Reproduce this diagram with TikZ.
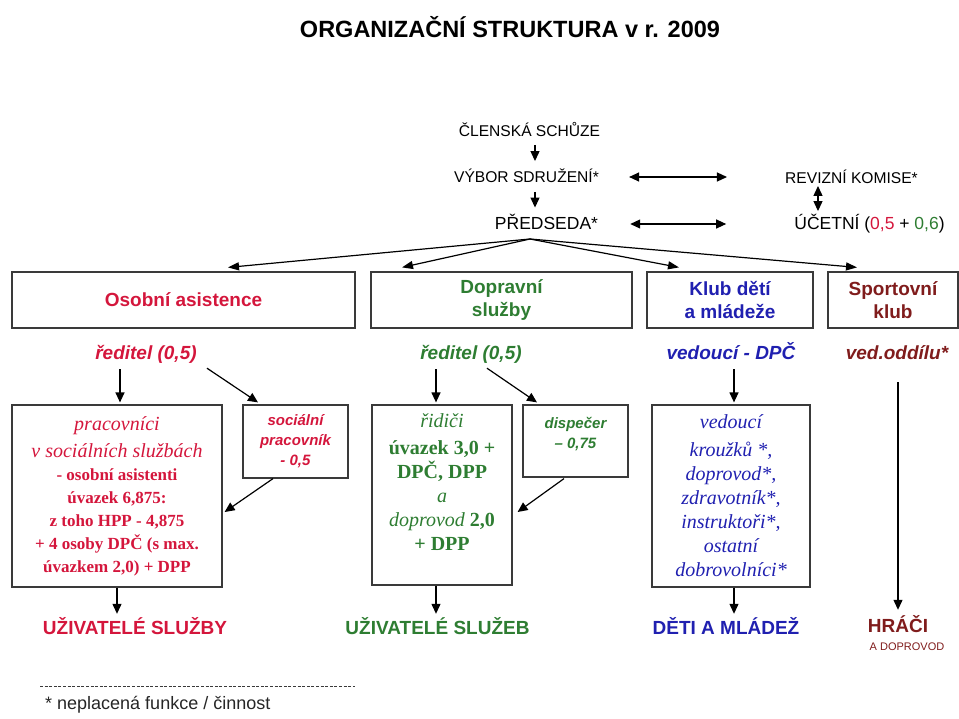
\documentclass[tikz,border=0pt]{standalone}
\usepackage{fontspec}
\setmainfont{Liberation Serif}
\setsansfont{Liberation Sans}
\usetikzlibrary{arrows.meta,calc}
\definecolor{ozred}{HTML}{D4163C}
\definecolor{ozgreen}{HTML}{2E7D32}
\definecolor{ozblue}{HTML}{2020B0}
\definecolor{ozdark}{HTML}{801C1C}
\definecolor{ozline}{HTML}{3A3A3A}
\newcommand\ozfs[2]{\fontsize{#1}{#2}\selectfont}
\begin{document}
\begin{tikzpicture}[x=1pt,y=-1pt,
  every node/.style={inner sep=0pt, font=\sffamily},
  toplbl/.style={font=\sffamily\ozfs{15.6}{18}, text height=11.5pt, text depth=0pt},
  headbox/.style={draw=ozline, line width=1.2pt, align=center, minimum height=56pt,
    font=\sffamily\bfseries\ozfs{19}{23}},
  rolelbl/.style={font=\sffamily\bfseries\itshape\ozfs{19}{22}, text height=14pt, text depth=4pt},
  staffbox/.style={draw=ozline, line width=1.2pt, align=center},
  smallbox/.style={draw=ozline, line width=1.2pt, align=center,
    font=\sffamily\bfseries\itshape\ozfs{15}{20}},
  endlbl/.style={font=\sffamily\bfseries\ozfs{19}{22}, text height=14pt, text depth=0pt},
  arr/.style={line width=1.2pt, -{Triangle[length=10pt,width=9pt]}},
  fanarr/.style={line width=1.2pt, -{Triangle[length=11pt,width=8pt]}},
  darr/.style={line width=1.2pt, {Triangle[length=10pt,width=9pt]}-{Triangle[length=10pt,width=9pt]}},
]
\useasboundingbox (0,0) rectangle (959,718);

% title
\node[font=\sffamily\bfseries\ozfs{23.5}{26}] (title) at (510,27) {ORGANIZAČNÍ STRUKTURA v r. 2009};

% top part
\node[toplbl] (cs) at (529.5,131) {ČLENSKÁ SCHŮZE};
\node[toplbl] (vs) at (526.5,177) {VÝBOR SDRUŽENÍ*};
\node[toplbl, font=\sffamily\ozfs{17.5}{20}, text height=12.5pt] (pr) at (546.5,223) {PŘEDSEDA*};
\node[toplbl] (rk) at (851.5,178) {REVIZNÍ KOMISE*};
\node[toplbl, font=\sffamily\ozfs{17.5}{20}, text height=12.5pt] (uc) at (869.5,223) {ÚČETNÍ (\textcolor{ozred}{0,5} + \textcolor{ozgreen}{0,6})};

\draw[arr] ($(cs.south)+(5.5,8)$) -- ($(vs.north)+(8.5,-10)$);
\draw[arr] ($(vs.south)+(8.5,9)$) -- ($(pr.north)+(-11.5,-9)$);
\draw[darr] ($(vs.east)+(30,0)$) -- ($(rk.west)+(-58,-1)$);
\draw[darr] ($(pr.east)+(32,1)$) -- ($(uc.west)+(-68,1)$);
\draw[darr] ($(rk.south)+(-33.5,2)$) -- ($(uc.north)+(-51.5,-5.5)$);

% head boxes
\node[headbox, text=ozred, minimum width=343pt] (b1) at (183.5,300) {Osobní asistence};
\node[headbox, text=ozgreen, minimum width=261pt] (b2) at (501.5,300) {Dopravní\\služby};
\node[headbox, text=ozblue, minimum width=166pt] (b3) at (730,300) {Klub dětí\\a mládeže};
\node[headbox, text=ozdark, minimum width=130pt] (b4) at (893,300) {Sportovní\\klub};

\coordinate (fan) at (530,239);
\draw[fanarr] (fan) -- ($(b1.north)+(44.5,-4)$);
\draw[fanarr] (fan) -- ($(b2.north)+(-99.5,-4)$);
\draw[fanarr] (fan) -- ($(b3.north)+(-51,-4)$);
\draw[fanarr] (fan) -- ($(b4.north)+(-36,-4)$);

% role labels
\node[rolelbl, text=ozred] (r1) at (146,354) {ředitel (0,5)};
\node[rolelbl, text=ozgreen] (r2) at (471,354) {ředitel (0,5)};
\node[rolelbl, text=ozblue] (r3) at (731,354) {vedoucí - DPČ};
\node[rolelbl, text=ozdark] (r4) at (897,354) {ved.oddílu*};

% staff boxes
\node[staffbox, text=ozred, minimum width=210pt, minimum height=182pt,
  font=\rmfamily\bfseries\ozfs{17}{23}] (p1) at (117,496)
  {{\mdseries\itshape\ozfs{20}{23}pracovníci}\\[4pt]
   {\mdseries\itshape\ozfs{20}{23}v sociálních službách}\\[0pt]
   - osobní asistenti\\
   úvazek 6,875:\\
   z toho HPP - 4,875\\
   + 4 osoby DPČ (s max.\\
   úvazkem 2,0) + DPP};
\node[smallbox, text=ozred, minimum width=105pt, minimum height=73pt] (s1) at (295.5,441.5)
  {sociální\\pracovník\\- 0,5};

\node[staffbox, text=ozgreen, minimum width=140pt, minimum height=180pt,
  font=\rmfamily\bfseries\ozfs{20}{24}] (p2) at (442,495)
  {{\mdseries\itshape řidiči}\\[3pt]
   úvazek 3,0 +\\
   DPČ, DPP\\
   {\mdseries\itshape a}\\
   {\mdseries\itshape doprovod} 2,0\\
   + DPP\\[2pt]
   \mbox{}};
\node[smallbox, text=ozgreen, minimum width=105pt, minimum height=72pt] (d2) at (575.5,441)
  {dispečer\\– 0,75\\[-4pt]\mbox{}};

\node[staffbox, text=ozblue, minimum width=158pt, minimum height=182pt,
  font=\rmfamily\itshape\ozfs{20}{24}] (p3) at (731,496)
  {vedoucí\\[4pt]
   kroužků *,\\
   doprovod*,\\
   zdravotník*,\\
   instruktoři*,\\
   ostatní\\
   dobrovolníci*};

% end labels
\node[endlbl, text=ozred] (u1) at (135,627) {UŽIVATELÉ SLUŽBY};
\node[endlbl, text=ozgreen] (u2) at (437.5,627) {UŽIVATELÉ SLUŽEB};
\node[endlbl, text=ozblue] (u3) at (726,627) {DĚTI A MLÁDEŽ};
\node[endlbl, text=ozdark] (h4) at (898,625) {HRÁČI};
\node[font=\sffamily\ozfs{11}{13}, text=ozdark] (h4b) at (907,647) {A DOPROVOD};

% red branch
\draw[arr] ($(r1.south)+(-26,6)$) -- ($(p1.north)+(3,-2)$);
\draw[arr] ($(r1.south)+(61,5)$) -- ($(s1.north)+(-37.5,-2)$);
\draw[arr] ($(s1.south)+(-22.5,0)$) -- ($(p1.east)+(2,16)$);
\draw[arr] ($(p1.south)+(0,0)$) -- ($(u1.north)+(-18,-6)$);
% green branch
\draw[arr] ($(r2.south)+(-35,6)$) -- ($(p2.north)+(-6,-2)$);
\draw[arr] ($(r2.south)+(16,5)$) -- ($(d2.north)+(-38.5,-2)$);
\draw[arr] ($(d2.south)+(-11.5,1)$) -- ($(p2.east)+(5,17)$);
\draw[arr] ($(p2.south)+(-6,0)$) -- ($(u2.north)+(-1.5,-6)$);
% blue branch
\draw[arr] ($(r3.south)+(3,6)$) -- ($(p3.north)+(3,-2)$);
\draw[arr] ($(p3.south)+(3,0)$) -- ($(u3.north)+(8,-6)$);
% sport branch
\draw[arr] ($(r4.south)+(1,19)$) -- ($(h4.north)+(0,-8)$);

% footnote
\draw[ozline, line width=0.8pt, dash pattern=on 3pt off 1.6pt] (40,686) -- (355,686);
\node[anchor=west, font=\sffamily\ozfs{18}{20}, text=black!85] (fn) at (45,705) {* neplacená funkce / činnost};
\end{tikzpicture}
\end{document}
